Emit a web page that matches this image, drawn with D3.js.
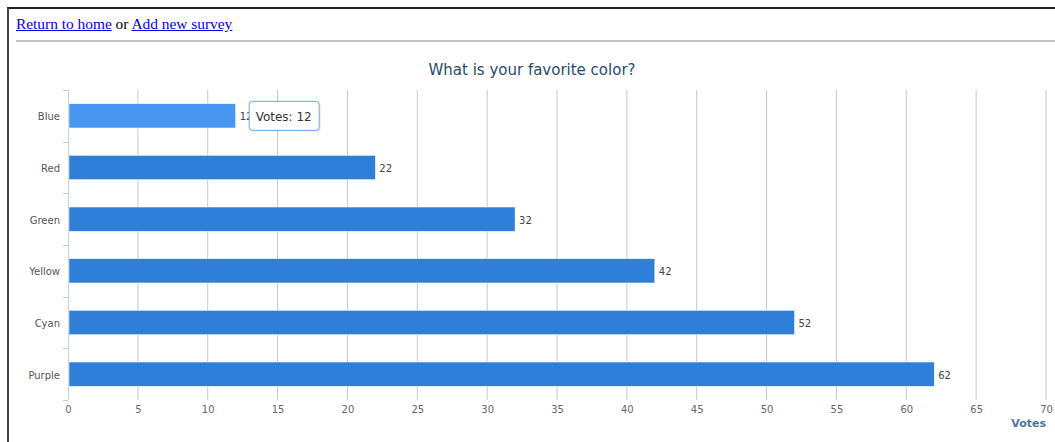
<!DOCTYPE html>
<html>
<head>
<meta charset="utf-8">
<script src="https://cdn.jsdelivr.net/npm/d3@7"></script>
<style>
  html, body { margin: 0; padding: 0; background: #fff; width: 1055px; height: 442px; overflow: hidden; }
  #frame {
    position: absolute; left: 7px; top: 7px; width: 1200px; height: 600px;
    border-top: 2px solid #222; border-left: 2px solid #444;
  }
  #nav {
    position: absolute; left: 16px; top: 15px;
    font-family: "Liberation Serif", "Times New Roman", serif; font-size: 15.4px; color: #000;
  }
  #nav a { color: #00e; text-decoration: underline; }
  #rule { position: absolute; left: 16px; top: 40px; width: 1100px; height: 0; border-top: 2px solid #c4c4c4; }
  #chart { position: absolute; left: 0; top: 0; }
</style>
</head>
<body>
<div id="frame"></div>
<div id="nav"><a href="#">Return to home</a> or <a href="#">Add new survey</a></div>
<div id="rule"></div>
<svg id="chart" width="1055" height="442"></svg>
<script>
// survey results
const colors = ["Blue", "Red", "Green", "Yellow", "Cyan", "Purple"];
const votes = [12, 22, 32, 42, 52, 62];
const xTicks = [0, 5, 10, 15, 20, 25, 30, 35, 40, 45, 50, 55, 60, 65, 70];
const hovered = "Blue";

const margin = { top: 90, right: 9, bottom: 42, left: 68 };
const W = 1055, H = 442;
const font = "'DejaVu Sans', Verdana, sans-serif";

const svg = d3.select("#chart");
const g = svg.append("g").attr("transform", `translate(${margin.left},${margin.top})`);
const width = W - margin.left - margin.right;
const height = H - margin.top - margin.bottom;

const x = d3.scaleLinear().domain([0, 70]).range([0, width]);
const y = d3.scaleBand().domain(colors).range([0, height]).paddingInner(0.53).paddingOuter(0.265);
const rows = colors.map((c, i) => ({ name: c, value: votes[i] }));

// title
svg.append("text")
    .attr("x", 532).attr("y", 75)
    .attr("text-anchor", "middle")
    .style("font-family", font).style("font-size", "15px").style("fill", "#274b6d")
    .text("What is your favorite color?");

// grid
g.append("g")
    .selectAll("line")
    .data(xTicks.slice(1))
    .enter().append("line")
    .attr("x1", d => x(d)).attr("x2", d => x(d))
    .attr("y1", 0).attr("y2", height)
    .attr("stroke", "#c8c8c8").attr("stroke-width", 1);

// x axis labels
const xa = g.append("g").attr("transform", `translate(0,${height})`)
    .call(d3.axisBottom(x).tickValues(xTicks).tickSize(0).tickPadding(6));
xa.select(".domain").remove();
xa.selectAll("text").style("font-family", font).style("font-size", "10px").style("fill", "#666");

svg.append("text")
    .attr("x", margin.left + width).attr("y", H - 15)
    .attr("text-anchor", "end")
    .style("font-family", font).style("font-size", "11px").style("font-weight", "bold").style("fill", "#4d759e")
    .text("Votes");

// y axis: line, category ticks between bands
const step = y.step();
g.append("line")
    .attr("x1", 0.5).attr("x2", 0.5).attr("y1", 0).attr("y2", height)
    .attr("stroke", "#c0d0e0");
g.append("g")
    .selectAll("line")
    .data(d3.range(colors.length + 1))
    .enter().append("line")
    .attr("x1", -5).attr("x2", 0)
    .attr("y1", i => Math.round(i * step) + 0.5).attr("y2", i => Math.round(i * step) + 0.5)
    .attr("stroke", "#c0d0e0");
g.append("g")
    .selectAll("text")
    .data(colors)
    .enter().append("text")
    .attr("x", -8).attr("y", d => y(d) + y.bandwidth() / 2 + 1)
    .attr("dy", "0.35em").attr("text-anchor", "end")
    .style("font-family", font).style("font-size", "10px").style("fill", "#555")
    .text(d => d);

// bars
g.selectAll(".bar")
    .data(rows)
    .enter().append("rect")
    .attr("class", "bar")
    .attr("x", 1).attr("y", d => y(d.name))
    .attr("width", d => x(d.value) - 1).attr("height", y.bandwidth())
    .attr("fill", d => d.name === hovered ? "#4897f1" : "#2f7ed8")
    .attr("stroke", "#fff").attr("stroke-width", 0.5);

// data labels
g.selectAll(".lbl")
    .data(rows)
    .enter().append("text")
    .attr("x", d => x(d.value) + 4).attr("y", d => y(d.name) + y.bandwidth() / 2 + 1)
    .attr("dy", "0.35em")
    .style("font-family", font).style("font-size", "10px").style("fill", "#444")
    .text(d => d.value);

// tooltip for hovered bar
const hv = rows.find(d => d.name === hovered);
const tip = g.append("g")
    .attr("transform", `translate(${x(hv.value) + 13},${y(hv.name) + y.bandwidth() / 2 - 15})`);
tip.append("rect")
    .attr("x", 2).attr("y", 2).attr("width", 70).attr("height", 29).attr("rx", 3)
    .attr("fill", "rgba(0,0,0,0.08)");
tip.append("rect")
    .attr("x", 0.5).attr("y", 0.5).attr("width", 70).attr("height", 29).attr("rx", 3)
    .attr("fill", "#fff").attr("stroke", "#6ea6e6").attr("stroke-width", 1);
tip.append("text")
    .attr("x", 7).attr("y", 15.5).attr("dy", "0.35em")
    .style("font-family", font).style("font-size", "12px").style("fill", "#333")
    .text(`Votes: ${hv.value}`);
</script>
</body>
</html>
